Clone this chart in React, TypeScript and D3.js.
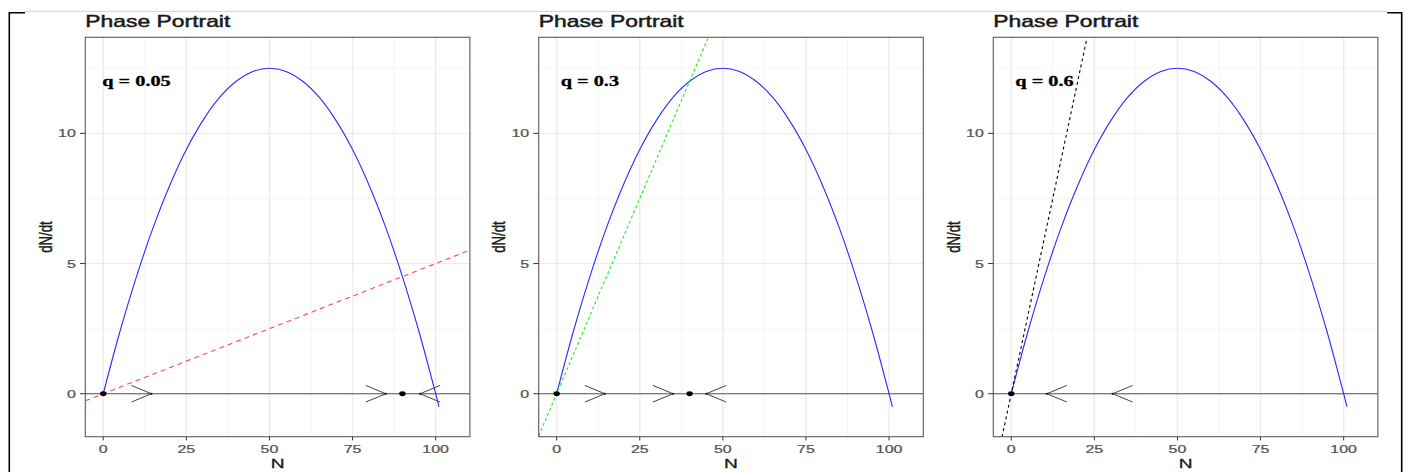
import React from 'react';
import * as d3 from 'd3';

// values
const popSizes = [0, 5, 10, 15, 20, 25, 30, 35, 40, 45, 50, 55, 60, 65, 70, 75, 80, 85, 90, 95, 100, 101];
const growthRates = [0, 2.38, 4.5, 6.38, 8.0, 9.38, 10.5, 11.38, 12.0, 12.38, 12.5, 12.38, 12.0, 11.38, 10.5, 9.38, 8.0, 6.38, 4.5, 2.38, 0, -0.5];
const harvestRates = [0.05, 0.3, 0.6];
const equilibria = [[0, 90], [0, 40], [0]];
const arrowTips = [[14.5, 85, 95.3], [14.5, 35, 45], [10.7, 30.5]];
const arrowDirs = [[1, 1, -1], [1, 1, -1], [-1, -1]];
const xTicks = [0, 25, 50, 75, 100];
const yTicks = [0, 5, 10];
const xMinor = [12.5, 37.5, 62.5, 87.5];
const yMinor = [2.5, 7.5, 12.5];
const labelPos = { n: 10, dndt: 12 };

// styles
const lineColors = ['#ff4a4a', '#1aee1a', '#000000'];
const lineDash = ['5,4', '3,2.5', '3,3'];
const panelLefts = [85.3, 538.7, 993.3];
const panelW = 384.6;
const top = 37.3;
const bottom = 436.7;
const SX = 1.45; // picture is stretched horizontally
const font = '"Liberation Sans", Arial, sans-serif';

function Txt({ x, y, anchor = 'start', size, fill, weight = 'normal', family = font, rotate = 0, dy = 0, halo = 0, children }: any) {
  return (
    <text
      transform={`translate(${x},${y}) scale(${SX},1)${rotate ? ` rotate(${rotate})` : ''}`}
      textAnchor={anchor}
      fontSize={size}
      fill={fill}
      stroke={halo ? fill : 'none'}
      strokeWidth={halo}
      fontWeight={weight}
      fontFamily={family}
      dy={dy}
    >
      {children}
    </text>
  );
}

function Panel({ i }: { i: number }) {
  const left = panelLefts[i];
  const x = d3.scaleLinear().domain([-5.4, 110.3]).range([left, left + panelW]);
  const y = d3.scaleLinear().domain([-1.65, 13.69]).range([bottom, top]);
  const q = harvestRates[i];
  const [x0, x1] = x.domain();

  const curve = d3
    .line<number>()
    .x((_, k) => x(popSizes[k]))
    .y((d) => y(d))
    .curve(d3.curveCatmullRom)(growthRates);

  const clipId = `clip${i}`;
  const hw = 20; // arrow head, px
  const hh = 8.3;

  return (
    <g>
      <defs>
        <clipPath id={clipId}>
          <rect x={left} y={top} width={panelW} height={bottom - top} />
        </clipPath>
      </defs>
      <rect x={left} y={top} width={panelW} height={bottom - top} fill="#fff" />
      {xMinor.map((v) => (
        <line key={'xm' + v} x1={x(v)} x2={x(v)} y1={top} y2={bottom} stroke="#f3f3f3" strokeWidth={0.9} />
      ))}
      {yMinor.map((v) => (
        <line key={'ym' + v} x1={left} x2={left + panelW} y1={y(v)} y2={y(v)} stroke="#f3f3f3" strokeWidth={0.6} />
      ))}
      {xTicks.map((v) => (
        <line key={'xg' + v} x1={x(v)} x2={x(v)} y1={top} y2={bottom} stroke="#ebebeb" strokeWidth={1.4} />
      ))}
      {yTicks.map((v) => (
        <line key={'yg' + v} x1={left} x2={left + panelW} y1={y(v)} y2={y(v)} stroke="#ebebeb" strokeWidth={1} />
      ))}
      <g clipPath={`url(#${clipId})`}>
        <line x1={left} x2={left + panelW} y1={y(0)} y2={y(0)} stroke="#555" strokeWidth={1.1} />
        <path d={curve || ''} fill="none" stroke="#2a2aff" strokeWidth={1.1} />
        <line
          x1={x(x0)}
          y1={y(q * x0)}
          x2={x(x1)}
          y2={y(q * x1)}
          stroke={lineColors[i]}
          strokeWidth={1.1}
          strokeDasharray={lineDash[i]}
        />
        {arrowTips[i].map((t, k) => {
          const tx = x(t);
          const ty = y(0);
          const bx = tx - arrowDirs[i][k] * hw;
          return (
            <g key={'a' + k} stroke="#444" strokeWidth={1} fill="none">
              <line x1={bx} y1={ty - hh} x2={tx} y2={ty} />
              <line x1={bx} y1={ty + hh} x2={tx} y2={ty} />
              <circle cx={tx} cy={ty} r={1.1} fill="#111" stroke="none" />
            </g>
          );
        })}
        {equilibria[i].map((e) => (
          <ellipse key={'e' + e} cx={x(e)} cy={y(0)} rx={3.2} ry={2.4} fill="#000" />
        ))}
      </g>
      <rect x={left} y={top} width={panelW} height={bottom - top} fill="none" stroke="#5a5a5a" strokeWidth={1.1} />
      {xTicks.map((v) => (
        <g key={'xt' + v}>
          <line x1={x(v)} x2={x(v)} y1={bottom} y2={bottom + 3.7} stroke="#333" strokeWidth={1} />
          <Txt x={x(v)} y={453} anchor="middle" size={11} fill="#555" halo={0.25}>
            {v}
          </Txt>
        </g>
      ))}
      {yTicks.map((v) => (
        <g key={'yt' + v}>
          <line x1={left - 5.3} x2={left} y1={y(v)} y2={y(v)} stroke="#333" strokeWidth={1} />
          <Txt x={left - 9.5} y={y(v)} dy="0.36em" anchor="end" size={11} fill="#555" halo={0.25}>
            {v}
          </Txt>
        </g>
      ))}
      <Txt x={left} y={27.3} size={15.8} fill="#1a1a1a" halo={0.45}>
        Phase Portrait
      </Txt>
      <Txt x={left + panelW / 2} y={467.7} anchor="middle" size={13.2} fill="#1a1a1a" halo={0.3}>
        N
      </Txt>
      <Txt x={left - 33.5} y={(top + bottom) / 2} anchor="middle" size={13.2} fill="#1a1a1a" rotate={-90} halo={0.3}>
        dN/dt
      </Txt>
      <Txt
        x={x(labelPos.n)}
        y={y(labelPos.dndt)}
        dy="0.34em"
        anchor="middle"
        size={14}
        weight="bold"
        fill="#000"
        halo={0.3}
        family={'"Liberation Serif", "Times New Roman", serif'}
      >
        {`q = ${q}`}
      </Txt>
    </g>
  );
}

export default function App() {
  return (
    <svg width={1408} height={472} style={{ position: 'absolute', left: 0, top: 0, background: '#fff' }}>
      <rect width={1408} height={472} fill="#fff" />
      {/* window frame */}
      <line x1={25} x2={1387.3} y1={11.3} y2={11.3} stroke="#cfcfcf" strokeWidth={1} />
      <path d="M9.3,472 V12.7 H25" fill="none" stroke="#000" strokeWidth={1.6} />
      <path d="M1387.3,12.7 H1401.7 V472" fill="none" stroke="#000" strokeWidth={1.6} />
      {harvestRates.map((_, i) => (
        <Panel key={i} i={i} />
      ))}
    </svg>
  );
}
